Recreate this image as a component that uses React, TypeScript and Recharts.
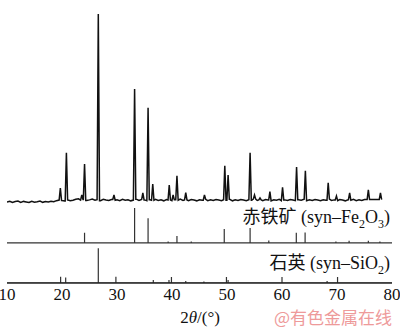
import React from 'react';
import { ComposedChart, Line, XAxis, YAxis } from 'recharts';

// 2θ ticks
const TICKS = [10, 20, 30, 40, 50, 60, 70, 80];

// measured pattern: background read every 0.5° from 10° (relative units, strongest peak = 100)
const BG_START = 10;
const BG_STEP = 0.5;
const background = [
  0.4, 0.9, 0.2, 0.7, 1.0, 0.3, 0.8, 0.5, 0.2, 0.9, 0.4, 0.6, 1.0, 0.3, 0.7, 0.5, 0.9,
  0.6, 1.2, 1.5, 1.3, 1.0, 1.6, 1.2, 1.4, 1.9, 2.2, 1.5, 1.8, 1.3, 1.6, 2.0, 1.4, 1.7, 1.2, 1.9, 1.5, 1.3, 1.8, 1.4,
  1.6, 1.2, 1.9, 1.4, 1.7, 1.1, 1.5, 2.0, 1.3, 1.8, 1.6, 1.2, 1.7, 1.4, 1.9, 1.3, 1.6, 1.1, 1.8, 1.5,
  1.2, 1.7, 1.4, 2.0, 1.3, 1.6, 1.2, 1.8, 1.5, 1.1, 1.7, 1.4, 1.9, 1.2, 1.6, 1.3, 1.8, 1.5, 1.2, 1.7,
  1.4, 1.9, 1.1, 1.6, 1.3, 1.8, 1.5, 1.2, 1.7, 1.4, 2.0, 1.3, 1.6, 1.2, 1.8, 1.5, 1.1, 1.7, 1.4, 1.9,
  1.2, 1.6, 1.3, 1.8, 1.5, 1.2, 1.7, 1.4, 1.9, 1.1, 1.6, 1.3, 1.8, 1.5, 1.2, 1.7, 1.4, 2.0, 1.3, 1.6,
  1.2, 1.8, 1.5, 1.1, 1.7, 1.4, 1.9, 1.2, 1.6, 1.3, 1.8,
];

// measured peaks [2θ, relative intensity]
const measuredPeaks: [number, number][] = [
  [19.7, 7.9], [20.8, 26.6], [23.6, 4.2], [24.1, 20.6], [26.6, 100], [29.45, 4.2],
  [33.2, 60.3], [34.7, 5.3], [35.65, 50.3], [36.5, 10.0], [39.5, 9.5], [40.2, 4.2],
  [40.9, 14.3], [42.5, 5.5], [45.9, 4.2], [49.6, 19.6], [50.2, 14.8], [54.2, 26.5],
  [55.0, 4.2], [56.0, 2.6], [57.8, 6.0], [60.1, 8.3], [62.65, 19.0], [64.25, 17.0],
  [68.4, 10.6], [69.9, 3.7], [72.3, 5.3], [75.7, 6.9], [77.9, 5.3],
];

// hematite (syn-Fe2O3) reference lines [2θ, relative intensity]
const hematite: [number, number][] = [
  [24.1, 29], [33.2, 100], [35.65, 71], [39.3, 4], [40.9, 20], [43.5, 4], [49.5, 40],
  [54.2, 43], [57.6, 7], [62.6, 29], [64.2, 30], [69.8, 4], [72.2, 6], [75.7, 6], [77.8, 4],
];

// quartz (syn-SiO2) reference lines [2θ, relative intensity]
const quartz: [number, number][] = [
  [19.75, 18], [20.67, 16], [26.6, 100], [29.8, 18], [36.6, 9], [39.45, 9], [39.9, 17],
  [42.5, 6], [45.8, 4], [49.9, 17], [50.2, 9], [60.0, 17], [68.2, 6], [70.1, 17],
];

// layout of the stacked patterns (y domain 0..100 over the plot height)
const XRD_BASE = 28.4;
const XRD_SCALE = 0.67;
const FE_BASE = 14.2;
const FE_SCALE = 0.124;
const SI_BASE = 0;
const SI_SCALE = 0.123;
const HALF = 0.22;

function bgAt(x: number) {
  const i = Math.round((x - BG_START) / BG_STEP);
  return background[Math.max(0, Math.min(background.length - 1, i))];
}

const measured = (() => {
  const pts: { x: number; y: number }[] = [];
  background.forEach((v, i) => {
    const x = BG_START + i * BG_STEP;
    if (!measuredPeaks.some(([p]) => Math.abs(x - p) < HALF + 0.05)) pts.push({ x, y: v });
  });
  measuredPeaks.forEach(([p, h]) => {
    pts.push({ x: p - HALF, y: bgAt(p - HALF) });
    pts.push({ x: p, y: h });
    pts.push({ x: p + HALF, y: bgAt(p + HALF) });
  });
  return pts
    .sort((a, b) => a.x - b.x)
    .map((d) => ({ x: d.x, y: XRD_BASE + d.y * XRD_SCALE }));
})();

function sticks(lines: [number, number][], base: number, scale: number) {
  const pts = [{ x: 10, y: base }];
  lines.forEach(([p, h]) => {
    pts.push({ x: p, y: base }, { x: p, y: base + h * scale }, { x: p, y: base });
  });
  pts.push({ x: 80, y: base });
  return pts;
}

const hematiteData = sticks(hematite, FE_BASE, FE_SCALE);
const quartzData = sticks(quartz, SI_BASE, SI_SCALE);

const SERIF = "'Liberation Serif', 'Noto Sans CJK SC', serif";
const FRAME = '#222';

function Tick(props: any) {
  const { x, payload } = props;
  return (
    <text x={x} y={300} textAnchor="middle" fontFamily="Liberation Serif" fontSize={17} fill="#111">
      {payload.value}
    </text>
  );
}

export default function App() {
  return (
    <div style={{ position: 'absolute', left: 0, top: 0, width: 400, height: 330, background: '#fff', fontFamily: SERIF, overflow: 'hidden' }}>
      <ComposedChart width={400} height={330} margin={{ top: 1, right: 8, left: 7, bottom: 17 }}>
        <XAxis
          dataKey="x"
          type="number"
          domain={[10, 80]}
          ticks={TICKS}
          interval={0}
          allowDataOverflow
          tickLine={false}
          axisLine={{ stroke: FRAME, strokeWidth: 1.5 }}
          tick={<Tick />}
          height={30}
        />
        <XAxis
          xAxisId="top"
          orientation="top"
          type="number"
          domain={[10, 80]}
          tick={false}
          tickLine={false}
          axisLine={{ stroke: FRAME, strokeWidth: 1.5 }}
          height={0}
        />
        <YAxis
          type="number"
          domain={[0, 100]}
          allowDataOverflow
          tick={false}
          tickLine={false}
          axisLine={{ stroke: FRAME, strokeWidth: 2 }}
          width={0}
        />
        <YAxis
          yAxisId="right"
          orientation="right"
          type="number"
          domain={[0, 100]}
          tick={false}
          tickLine={false}
          axisLine={{ stroke: FRAME, strokeWidth: 2 }}
          width={0}
        />
        <Line data={quartzData} dataKey="y" type="linear" stroke="#333" strokeWidth={1.2} dot={false} isAnimationActive={false} />
        <Line data={hematiteData} dataKey="y" type="linear" stroke="#333" strokeWidth={1.2} dot={false} isAnimationActive={false} />
        <Line data={measured} dataKey="y" type="linear" stroke="#111" strokeWidth={1.5} dot={false} isAnimationActive={false} />
      </ComposedChart>
      <div style={{ position: 'absolute', right: 10, top: 207, fontSize: 18, color: '#111', whiteSpace: 'nowrap', lineHeight: '20px' }}>
        赤铁矿 (syn–Fe<sub style={{ fontSize: 12 }}>2</sub>O<sub style={{ fontSize: 12 }}>3</sub>)
      </div>
      <div style={{ position: 'absolute', right: 10, top: 253, fontSize: 18, color: '#111', whiteSpace: 'nowrap', lineHeight: '20px' }}>
        石英 (syn–SiO<sub style={{ fontSize: 12 }}>2</sub>)
      </div>
      <div style={{ position: 'absolute', left: 0, width: 400, top: 309, textAlign: 'center', fontSize: 17, color: '#111', lineHeight: '17px' }}>
        2<i>θ</i>/(°)
      </div>
      <div style={{ position: 'absolute', right: 8, top: 309, fontFamily: "'Noto Sans CJK SC', sans-serif", fontSize: 17, color: '#ee9a9a', whiteSpace: 'nowrap', lineHeight: '16px' }}>
        @有色金属在线
      </div>
    </div>
  );
}
